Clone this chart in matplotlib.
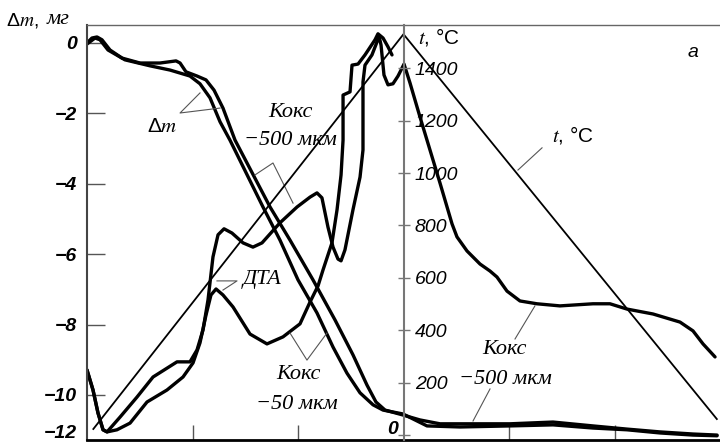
import matplotlib
matplotlib.use("Agg")
import matplotlib.pyplot as plt

plt.rcParams['mathtext.fontset'] = 'stix'

# temperature programme, deg C (right axis)
temp_time = [0.06, 3.0, 5.97]
temp_c = [23, 1530, 61]

# mass change, mg (two curves)
dm_a_time = [0.0, 0.047, 0.095, 0.142, 0.218, 0.332, 0.502, 0.692, 0.844, 0.882, 0.938, 1.043,
             1.128, 1.204, 1.289, 1.403, 1.735, 1.924, 2.142, 2.351, 2.521, 2.654, 2.739, 2.825,
             2.995, 3.156, 3.346, 3.697, 4.009, 4.417, 4.796, 5.118, 5.431, 5.744, 5.972]
dm_a = [0.0, 0.14, 0.17, 0.09, -0.20, -0.43, -0.57, -0.57, -0.51, -0.57, -0.82, -0.94,
        -1.05, -1.34, -1.85, -2.76, -4.66, -5.60, -6.73, -7.87, -8.86, -9.72, -10.20, -10.43,
        -10.57, -10.71, -10.82, -10.82, -10.82, -10.77, -10.88, -10.97, -11.05, -11.11, -11.14]

dm_b_time = [0.0, 0.076, 0.123, 0.199, 0.36, 0.597, 0.787, 0.976, 1.071, 1.166, 1.261, 1.355,
             1.668, 1.829, 2.0, 2.18, 2.332, 2.464, 2.588, 2.711, 2.806, 2.995, 3.223, 3.536,
             4.009, 4.417, 4.796, 5.118, 5.431, 5.744, 5.972]
dm_b = [-0.03, 0.14, 0.09, -0.20, -0.48, -0.65, -0.77, -0.94, -1.16, -1.56, -2.24, -2.76,
        -4.66, -5.60, -6.73, -7.67, -8.64, -9.38, -9.94, -10.28, -10.43, -10.54, -10.88, -10.91,
        -10.88, -10.85, -10.94, -10.99, -11.08, -11.14, -11.16]

# DTA traces, drawn in the same frame as dm
dta1_time = [0.0, 0.057, 0.104, 0.152, 0.19, 0.313, 0.474, 0.626, 0.853, 0.976, 1.043, 1.1,
             1.147, 1.194, 1.242, 1.299, 1.374, 1.479, 1.573, 1.659, 1.829, 1.991, 2.114, 2.18,
             2.227, 2.284, 2.332, 2.379, 2.408, 2.445, 2.521, 2.588, 2.616, 2.616, 2.616, 2.635,
             2.701, 2.749, 2.768, 2.787, 2.815, 2.853, 2.9, 2.948, 3.005, 3.062, 3.156, 3.251,
             3.346, 3.46, 3.507, 3.602, 3.725, 3.82, 3.886, 3.981, 4.104, 4.265, 4.483, 4.796,
             4.957, 5.118, 5.365, 5.621, 5.744, 5.839, 5.953]
dta1 = [-9.29, -9.86, -10.51, -10.99, -11.05, -10.63, -10.06, -9.49, -9.06, -9.06, -8.72, -8.15,
        -7.30, -6.08, -5.45, -5.28, -5.40, -5.68, -5.80, -5.68, -5.11, -4.66, -4.38, -4.26,
        -4.40, -5.23, -5.80, -6.14, -6.19, -5.88, -4.74, -3.81, -3.04, -1.90, -1.11, -0.63,
        -0.34, 0.03, 0.20, -0.06, -0.91, -1.19, -1.16, -0.94, -0.60, -1.14, -2.10, -3.04,
        -3.98, -5.14, -5.51, -5.91, -6.28, -6.48, -6.65, -7.05, -7.33, -7.41, -7.47, -7.41,
        -7.41, -7.56, -7.70, -7.93, -8.18, -8.55, -8.92]

dta2_time = [0.0, 0.057, 0.104, 0.152, 0.19, 0.284, 0.408, 0.569, 0.758, 0.91, 1.005, 1.071,
             1.128, 1.175, 1.223, 1.289, 1.384, 1.545, 1.706, 1.858, 2.019, 2.114, 2.19, 2.237,
             2.322, 2.37, 2.408, 2.427, 2.427, 2.493, 2.512, 2.569, 2.635, 2.73, 2.758, 2.806,
             2.853, 2.891]
dta2 = [-9.29, -9.86, -10.51, -10.99, -11.05, -10.99, -10.80, -10.20, -9.86, -9.49, -9.09, -8.52,
        -7.73, -7.16, -6.99, -7.16, -7.50, -8.27, -8.55, -8.35, -7.98, -7.36, -6.90, -6.45,
        -5.68, -4.74, -3.75, -2.76, -1.48, -1.39, -0.63, -0.60, -0.34, 0.09, 0.26, 0.14,
        -0.11, -0.34]

dm_ticks = [0, -2, -4, -6, -8, -10]
dm_labels = ['0', '−2', '−4', '−6', '−8', '−10']
temp_ticks = [0, 200, 400, 600, 800, 1000, 1200, 1400]
temp_labels = ['', '200', '400', '600', '800', '1000', '1200', '1400']
time_ticks = [1, 2, 4, 5]

left_font = dict(family='Liberation Sans', style='italic', weight='bold', size=14)
tick_font = dict(family='Liberation Sans', style='italic', size=14)
note_font = dict(family='Liberation Serif', style='italic', size=16)
ptr = dict(color='#555555', lw=0.8)

fig = plt.figure(figsize=(7.2, 4.48), dpi=100)
ax = fig.add_axes([87 / 720, 8 / 448, 633 / 720, 415 / 448])
ax.set_xlim(0, 6)
ax.set_ylim(-11.28, 0.51)

ax2 = ax.twinx()
ax2.set_ylim(-19, 1565)

heavy = dict(color='black', lw=2.4, solid_joinstyle='round', solid_capstyle='round')
ax.plot(dm_a_time, dm_a, **heavy)
ax.plot(dm_b_time, dm_b, **heavy)
ax.plot(dta1_time, dta1, **heavy)
ax.plot(dta2_time, dta2, **heavy)
ax2.plot(temp_time, temp_c, color='black', lw=1.3)

# spines
for s in ['top', 'bottom', 'left', 'right']:
    ax2.spines[s].set_visible(False)
ax.spines['right'].set_visible(False)
ax.spines['left'].set_color('#444444')
ax.spines['left'].set_linewidth(1.5)
ax.spines['top'].set_color('#666666')
ax.spines['top'].set_linewidth(1.0)
ax.spines['bottom'].set_color('black')
ax.spines['bottom'].set_linewidth(2.0)
ax2.spines['right'].set_visible(True)
ax2.spines['right'].set_position(('axes', 0.5))
ax2.spines['right'].set_color('#777777')
ax2.spines['right'].set_linewidth(1.5)

ax.set_yticks(dm_ticks)
ax.set_yticklabels(dm_labels, fontdict=left_font)
ax.tick_params(axis='y', direction='in', length=13, width=1, color='#555555', pad=7)
ax.set_xticks(time_ticks)
ax.set_xticklabels([])
ax.tick_params(axis='x', direction='in', length=11, width=1, color='#555555')

ax2.set_yticks(temp_ticks)
ax2.set_yticklabels(temp_labels, fontdict=tick_font)
ax2.tick_params(axis='y', direction='inout', length=8, width=1, color='#777777', pad=4)

ax.text(-0.095, -11.1, '−12', ha='right', va='center', clip_on=False, **left_font)
ax.text(2.9, -10.99, '0', ha='center', va='center', **left_font)

# axis titles
fig.text(6 / 720, 1 - 20 / 448, 'Δ$m$,', ha='left', va='center', family='Liberation Sans', size=14)
fig.text(47 / 720, 1 - 19 / 448, 'мг', ha='left', va='center', **note_font)
ax.text(3.336, 0.17, '$t$, °C', ha='center', va='center', size=15, family='Liberation Sans')
ax.text(4.607, -2.61, '$t$, °C', ha='center', va='center', size=15, family='Liberation Sans')
ax.text(5.744, -0.28, 'а', ha='center', va='center', family='Liberation Sans', style='italic', size=14)

# curve labels with pointer lines
ax.text(0.711, -2.36, 'Δ$m$', ha='center', va='center', family='Liberation Sans', size=15)
ax.plot([1.071, 0.882, 1.261], [-1.42, -1.99, -1.85], **ptr)

ax.text(1.924, -1.99, 'Кокс', ha='center', va='center', **note_font)
ax.text(1.924, -2.78, '−500 мкм', ha='center', va='center', **note_font)
ax.plot([1.592, 1.763, 1.953], [-3.75, -3.41, -4.55], **ptr)

ax.text(1.659, -6.73, 'ДТА', ha='center', va='center', **note_font)
ax.plot([1.232, 1.422, 1.289], [-6.76, -6.76, -7.02], **ptr)

ax.text(2.0, -9.43, 'Кокс', ha='center', va='center', **note_font)
ax.text(1.991, -10.26, '−50 мкм', ha='center', va='center', **note_font)
ax.plot([1.924, 2.085, 2.275], [-8.24, -9.01, -8.24], **ptr)

ax.plot([4.313, 4.085], [-2.98, -3.61], **ptr)

ax.text(3.953, -8.72, 'Кокс', ha='center', va='center', **note_font)
ax.text(3.962, -9.55, '−500 мкм', ha='center', va='center', **note_font)
ax.plot([4.057, 4.246], [-8.41, -7.47], **ptr)
ax.plot([3.820, 3.659], [-9.83, -10.74], **ptr)

fig.savefig('out.png', dpi=100)
